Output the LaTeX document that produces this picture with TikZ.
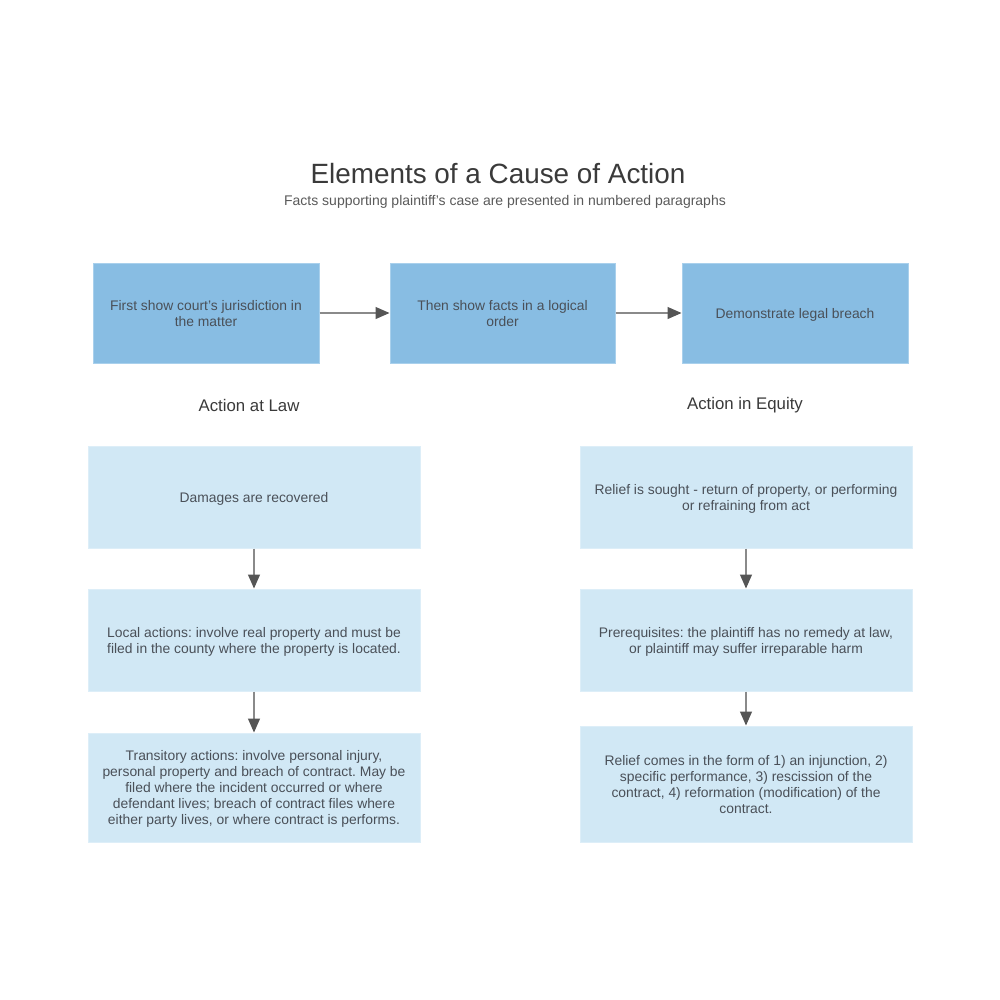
\documentclass[tikz,border=0pt]{standalone}
\usepackage{fontspec}
\setmainfont{Liberation Sans}
\usetikzlibrary{arrows.meta}
\definecolor{darkbox}{HTML}{88BDE3}
\definecolor{darkedge}{HTML}{A9D0EC}
\definecolor{lightbox}{HTML}{D1E8F5}
\definecolor{lightedge}{HTML}{DDEEF8}
\definecolor{boxtext}{HTML}{4A5058}
\definecolor{titletext}{HTML}{3A3A3A}
\definecolor{subtext}{HTML}{5A5A5A}
\definecolor{linegray}{HTML}{8A8A8A}
\definecolor{headgray}{HTML}{555555}
\newcommand{\lowered}[1]{\raisebox{0pt}[\dimexpr\height+3pt\relax][\depth]{\begin{tabular}{@{}c@{}}#1\end{tabular}}}
\begin{document}
\frenchspacing
\begin{tikzpicture}[x=0.75pt,y=-0.75pt,
  topbox/.style={draw=darkedge,line width=0.75pt,fill=darkbox,text=boxtext,font=\fontsize{10.4}{12}\selectfont,align=center,inner sep=0pt},
  lowbox/.style={draw=lightedge,line width=0.75pt,fill=lightbox,text=boxtext,font=\fontsize{10.4}{12}\selectfont,align=center,inner sep=0pt},
  flow/.style={draw=linegray,line width=0.9pt,-{Triangle[length=10.5pt,width=9pt,color=headgray]}},
  heading/.style={text=titletext,font=\fontsize{12.6}{14}\selectfont,inner sep=0pt}
]
\useasboundingbox[fill=white] (0,0) rectangle (1000,1000);

\node[text=titletext,font=\fontsize{20.9}{24}\selectfont,inner sep=0pt] (title) at (498,174) {Elements of a Cause of Action};
\node[text=subtext,font=\fontsize{10.5}{12}\selectfont,inner sep=0pt] (subtitle) at (505,202) {Facts supporting plaintiff's case are presented in numbered paragraphs};

% top row
\node[topbox,minimum width=169.5pt,minimum height=75pt] (b1) at (206,313) {\lowered{First show court's jurisdiction in\\the matter}};
\node[topbox,minimum width=168.75pt,minimum height=75pt] (b2) at (502.5,313) {\lowered{Then show facts in a logical\\order}};
\node[topbox,minimum width=169.5pt,minimum height=75pt] (b3) at (795,313) {\lowered{Demonstrate legal breach}};
\draw[flow] (b1.east) -- (b2.west);
\draw[flow] (b2.east) -- (b3.west);

% headings
\node[heading] (law) at (249,405) {Action at Law};
\node[heading] (equity) at (745,405) {Action in Equity};

% left column
\node[lowbox,minimum width=249pt,minimum height=76.5pt] (l1) at (254,497) {\lowered{Damages are recovered}};
\node[lowbox,minimum width=249pt,minimum height=76.5pt] (l2) at (254,640) {\lowered{Local actions: involve real property and must be\\filed in the county where the property is located.}};
\node[lowbox,minimum width=249pt,minimum height=81.75pt] (l3) at (254,787.5) {\lowered{Transitory actions: involve personal injury,\\personal property and breach of contract. May be\\filed where the incident occurred or where\\defendant lives; breach of contract files where\\either party lives, or where contract is performs.}};
\draw[flow] (l1.south) -- (l2.north);
\draw[flow] (l2.south) -- (l3.north);

% right column
\node[lowbox,minimum width=249pt,minimum height=76.5pt] (r1) at (746,497) {\lowered{Relief is sought - return of property, or performing\\or refraining from act}};
\node[lowbox,minimum width=249pt,minimum height=76.5pt] (r2) at (746,640) {\lowered{Prerequisites: the plaintiff has no remedy at law,\\or plaintiff may suffer irreparable harm}};
\node[lowbox,minimum width=249pt,minimum height=87pt] (r3) at (746,784) {\lowered{Relief comes in the form of 1) an injunction, 2)\\specific performance, 3) rescission of the\\contract, 4) reformation (modification) of the\\contract.}};
\draw[flow] (r1.south) -- (r2.north);
\draw[flow] (r2.south) -- (r3.north);
\end{tikzpicture}
\end{document}
